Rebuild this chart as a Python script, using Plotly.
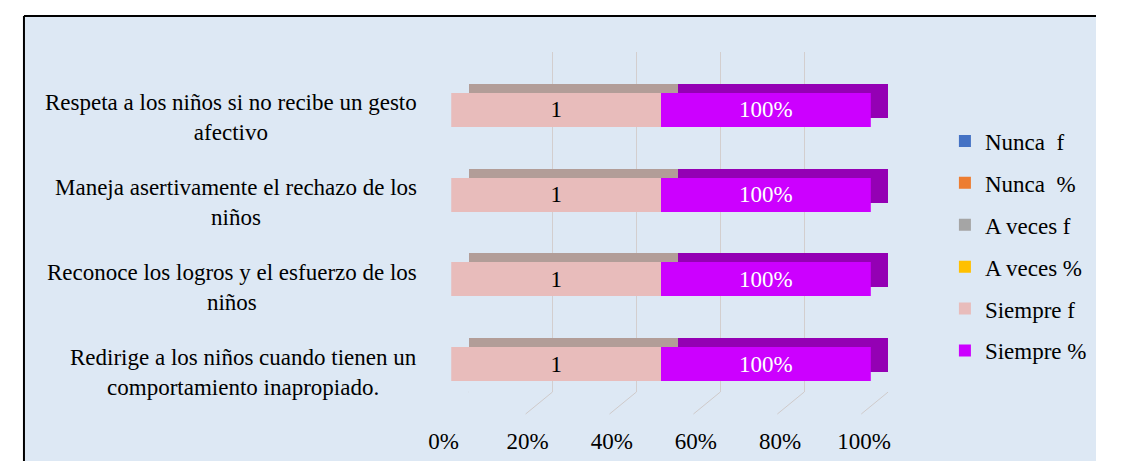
import plotly.graph_objects as go

# categories, top to bottom
categorias = [
    "Respeta a los niños si no recibe un gesto<br>afectivo",
    "Maneja asertivamente el rechazo de los<br>niños",
    "Reconoce los logros y el esfuerzo de los<br>niños",
    "Redirige a los niños cuando tienen un<br>comportamiento inapropiado.",
]
claves = ["c1", "c2", "c3", "c4"]

nunca_f = [0, 0, 0, 0]
nunca_pct = [0, 0, 0, 0]
a_veces_f = [0, 0, 0, 0]
a_veces_pct = [0, 0, 0, 0]
siempre_f = [1, 1, 1, 1]
siempre_pct = [1.0, 1.0, 1.0, 1.0]

ticks = [0, 20, 40, 60, 80, 100]
tick_text = ["0%", "20%", "40%", "60%", "80%", "100%"]

FONT = "Liberation Serif, Times New Roman, serif"
FS = 23
# the page body has an 8px margin, keep the figure inside the window
OFF = 8
W, H = 1123 - OFF, 469 - 2 * OFF


def px_x(a, b):
    return [(a - OFF) / W, (b - OFF) / W]


def px_y(top, bottom):
    return [1 - (bottom - OFF) / H, 1 - (top - OFF) / H]


def fx(x):
    return (x - OFF) / W


def fy(y):
    return 1 - (y - OFF) / H


series = [
    ("Nunca  f", nunca_f, "#4472c4", None),
    ("Nunca  %", nunca_pct, "#ed7d31", None),
    ("A veces f", a_veces_f, "#a5a5a5", None),
    ("A veces %", a_veces_pct, "#ffc000", None),
    ("Siempre f", siempre_f, "#e8bcbb", "#b29d98"),
    ("Siempre %", siempre_pct, "#cc00ff", "#9400b4"),
]

fig = go.Figure()

# back "depth" of the 3D bars (drawn first, behind)
for name, vals, col, dark in series:
    if dark is None:
        continue
    fig.add_trace(go.Bar(
        y=claves, x=vals, orientation="h", width=0.4,
        marker=dict(color=dark, line=dict(width=0)),
        xaxis="x", yaxis="y", showlegend=False, hoverinfo="skip",
    ))

# front faces
for i, (name, vals, col, dark) in enumerate(series):
    if name == "Siempre %":
        txt = [f"{v:.0%}" for v in vals]
        tcol = "white"
    else:
        txt = [str(v) for v in vals]
        tcol = "black"
    fig.add_trace(go.Bar(
        y=claves, x=vals, orientation="h", width=0.4, name=name,
        marker=dict(color=col, line=dict(width=0)),
        text=txt if dark else None, textposition="inside",
        insidetextanchor="middle", textangle=0,
        textfont=dict(family=FONT, size=FS, color=tcol),
        xaxis="x2", yaxis="y2", legendgroup=str(i), hoverinfo="skip",
    ))

# carrier for the front tick labels
fig.add_trace(go.Scatter(x=[0, 100], y=[claves[0], claves[-1]], mode="none",
                         xaxis="x3", yaxis="y2", showlegend=False,
                         hoverinfo="skip"))

# category labels
for c, lab in zip(claves, categorias):
    fig.add_annotation(x=fx(420), xref="paper", y=c, yref="y2", yshift=-8,
                       text=lab, showarrow=False, xanchor="right",
                       align="center", font=dict(family=FONT, size=FS, color="black"))

# floor lines of the 3D grid
for t in ticks:
    fig.add_shape(type="line", xref="x", yref="paper",
                  x0=t, y0=fy(392), x1=t - 6.4, y1=fy(414),
                  line=dict(color="#cfcaca", width=1))

# chart area box (open to the right and bottom, like the cropped original)
fig.add_shape(type="rect", xref="paper", yref="paper",
              x0=fx(9), y0=0, x1=1, y1=fy(16),
              line=dict(width=0), fillcolor="#dde8f4", layer="below")
fig.add_shape(type="line", xref="paper", yref="paper",
              x0=fx(9), y0=0, x1=fx(9), y1=fy(16),
              line=dict(color="black", width=2))
fig.add_shape(type="line", xref="paper", yref="paper",
              x0=fx(9), y0=fy(16), x1=1, y1=fy(16),
              line=dict(color="black", width=2))

fig.update_layout(
    width=W, height=H,
    margin=dict(l=0, r=0, t=0, b=0),
    paper_bgcolor="white", plot_bgcolor="rgba(0,0,0,0)",
    barmode="stack", barnorm="percent",
    font=dict(family=FONT, size=FS, color="black"),
    xaxis=dict(domain=px_x(471, 907), range=[0, 100], tickvals=ticks,
               showgrid=True, gridcolor="#d3cece", gridwidth=1,
               showticklabels=False, zeroline=False, anchor="y"),
    yaxis=dict(domain=px_y(52, 392), range=[3.4357, -0.5785], type="category",
               categoryorder="array", categoryarray=claves,
               showgrid=False, showticklabels=False, zeroline=False, anchor="x"),
    xaxis2=dict(domain=px_x(453, 889), range=[0, 100], showgrid=False,
                showticklabels=False, zeroline=False, anchor="y2"),
    yaxis2=dict(domain=px_y(67.65, 406.35), range=[3.5, -0.5], type="category",
                categoryorder="array", categoryarray=claves,
                showgrid=False, showticklabels=False, zeroline=False, anchor="x2"),
    xaxis3=dict(domain=px_x(445, 882), range=[0, 100], tickvals=ticks,
                ticktext=tick_text, showgrid=False, zeroline=False,
                anchor="free", position=fy(425), ticks="",
                tickfont=dict(family=FONT, size=FS, color="black")),
    legend=dict(x=fx(966), xanchor="left", y=fy(246), yanchor="middle",
                traceorder="grouped", tracegroupgap=9, bgcolor="rgba(0,0,0,0)",
                font=dict(family=FONT, size=FS, color="black")),
    showlegend=True,
)

fig.write_html("out.html")
